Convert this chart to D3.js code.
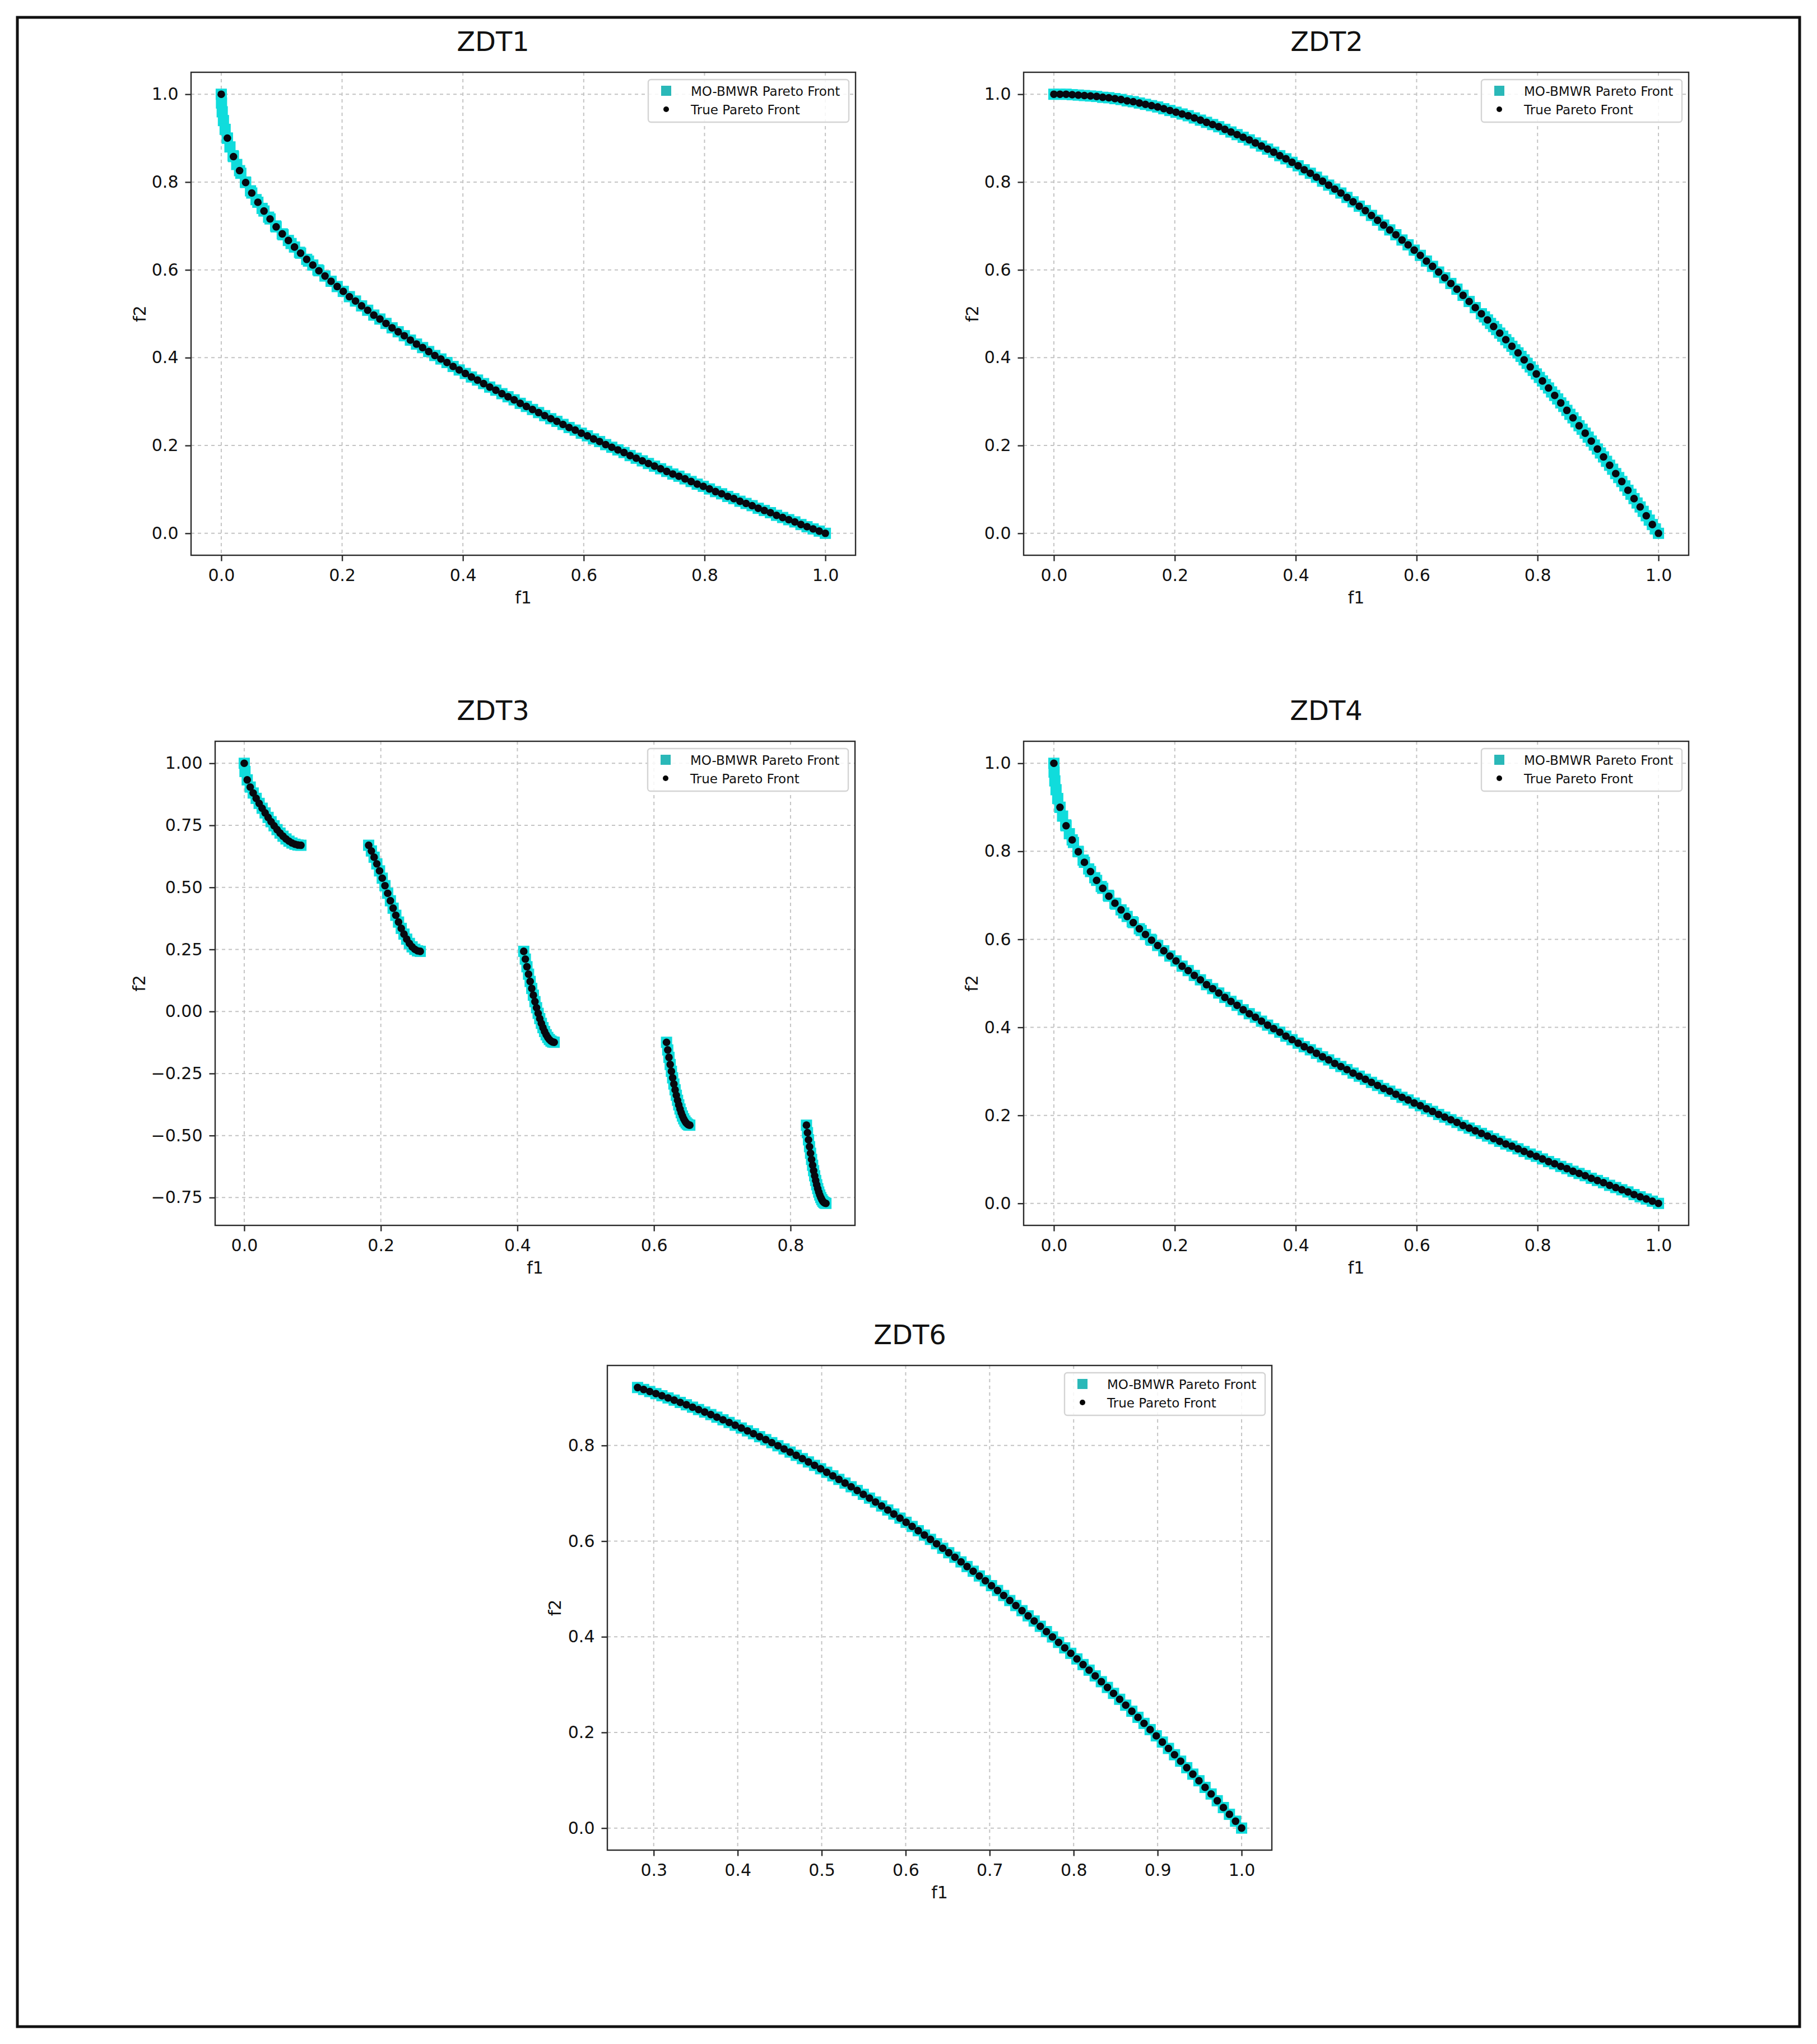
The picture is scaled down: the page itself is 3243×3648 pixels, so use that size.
<!DOCTYPE html>
<html><head><meta charset="utf-8">
<script src="https://cdn.jsdelivr.net/npm/d3@7"></script>
<style>body{margin:0;background:#fff}svg{display:block}</style>
</head><body>
<svg id="c" width="3243" height="3648"></svg>
<script>
// ---------- data ----------
const panelTitles = ["ZDT1", "ZDT2", "ZDT3", "ZDT4", "ZDT6"];
const legendLabels = ["MO-BMWR Pareto Front", "True Pareto Front"];
const xLabel = "f1", yLabel = "f2";

const unitTicks = [0, 0.2, 0.4, 0.6, 0.8, 1.0];
const zdt3XTicks = [0, 0.2, 0.4, 0.6, 0.8];
const zdt3YTicks = [-0.75, -0.5, -0.25, 0, 0.25, 0.5, 0.75, 1.0];
const zdt6XTicks = [0.3, 0.4, 0.5, 0.6, 0.7, 0.8, 0.9, 1.0];
const zdt6YTicks = [0, 0.2, 0.4, 0.6, 0.8];

// f1 positions of the true-front dots (ZDT1, ZDT2, ZDT4)
const f1Grid = [0,.0101,.0202,.0303,.0404,.0505,.0606,.0707,.0808,.0909,
.1010,.1111,.1212,.1313,.1414,.1515,.1616,.1717,.1818,.1919,
.2020,.2121,.2222,.2323,.2424,.2525,.2626,.2727,.2828,.2929,
.3030,.3131,.3232,.3333,.3434,.3535,.3636,.3737,.3838,.3939,
.4040,.4141,.4242,.4343,.4444,.4545,.4646,.4747,.4848,.4949,
.5051,.5152,.5253,.5354,.5455,.5556,.5657,.5758,.5859,.5960,
.6061,.6162,.6263,.6364,.6465,.6566,.6667,.6768,.6869,.6970,
.7071,.7172,.7273,.7374,.7475,.7576,.7677,.7778,.7879,.7980,
.8081,.8182,.8283,.8384,.8485,.8586,.8687,.8788,.8889,.8990,
.9091,.9192,.9293,.9394,.9495,.9596,.9697,.9798,.9899,1];

const zdt1TrueF2 = [1,.900,.858,.826,.799,.775,.754,.734,.716,.698,
.682,.667,.652,.638,.624,.611,.598,.586,.574,.562,
.551,.539,.529,.518,.508,.497,.488,.478,.468,.459,
.450,.440,.431,.423,.414,.405,.397,.389,.380,.372,
.364,.356,.349,.341,.333,.326,.318,.311,.304,.296,
.289,.282,.275,.268,.261,.255,.248,.241,.235,.228,
.222,.215,.209,.202,.196,.190,.184,.177,.171,.165,
.159,.153,.147,.141,.135,.130,.124,.118,.112,.107,
.101,.095,.090,.084,.079,.073,.068,.063,.057,.052,
.047,.041,.036,.031,.026,.020,.015,.010,.005,0];

const zdt2TrueF2 = [1,1.000,1.000,.999,.998,.997,.996,.995,.993,.992,
.990,.988,.985,.983,.980,.977,.974,.971,.967,.963,
.959,.955,.951,.946,.941,.936,.931,.926,.920,.914,
.908,.902,.896,.889,.882,.875,.868,.860,.853,.845,
.837,.828,.820,.811,.802,.793,.784,.775,.765,.755,
.745,.735,.724,.713,.702,.691,.680,.668,.657,.645,
.633,.620,.608,.595,.582,.569,.556,.542,.528,.514,
.500,.486,.471,.456,.441,.426,.411,.395,.379,.363,
.347,.331,.314,.297,.280,.263,.245,.228,.210,.192,
.174,.155,.136,.118,.098,.079,.060,.040,.020,0];

const zdt4TrueF2 = [1,.900,.858,.826,.799,.775,.754,.734,.716,.698,
.682,.667,.652,.638,.624,.611,.598,.586,.574,.562,
.551,.539,.529,.518,.508,.497,.488,.478,.468,.459,
.450,.440,.431,.423,.414,.405,.397,.389,.380,.372,
.364,.356,.349,.341,.333,.326,.318,.311,.304,.296,
.289,.282,.275,.268,.261,.255,.248,.241,.235,.228,
.222,.215,.209,.202,.196,.190,.184,.177,.171,.165,
.159,.153,.147,.141,.135,.130,.124,.118,.112,.107,
.101,.095,.090,.084,.079,.073,.068,.063,.057,.052,
.047,.041,.036,.031,.026,.020,.015,.010,.005,0];

const zdt3TrueF1 = [0,.00437,.00874,.01311,.01747,.02184,.02621,.03058,.03495,.03932,.04369,.04805,.05242,.05679,.06116,.06553,.06990,.07426,.07863,.08300,
.18223,.18620,.19018,.19416,.19813,.20211,.20608,.21006,.21403,.21801,.22198,.22596,.22994,.23391,.23789,.24186,.24584,.24981,.25379,.25776,
.40931,.41166,.41401,.41635,.41870,.42104,.42339,.42573,.42808,.43042,.43277,.43512,.43746,.43981,.44215,.44450,.44684,.44919,.45154,.45388,
.61840,.62019,.62199,.62378,.62558,.62737,.62917,.63097,.63276,.63456,.63635,.63815,.63994,.64174,.64353,.64533,.64713,.64892,.65072,.65251,
.82333,.82483,.82633,.82783,.82933,.83083,.83233,.83383,.83533,.83683,.83833,.83983,.84133,.84283,.84433,.84583,.84733,.84883,.85033,.85183];

const zdt3TrueF2 = [1,.9333,.9042,.8803,.8587,.8384,.8189,.8001,.7820,.7646,.7482,.7328,.7188,.7062,.6952,.6861,.6789,.6738,.6707,.6697,
.6697,.6467,.6216,.5948,.5665,.5371,.5069,.4764,.4460,.4162,.3875,.3602,.3348,.3117,.2914,.2742,.2604,.2504,.2442,.2422,
.2422,.2110,.1802,.1502,.1209,.0927,.0655,.0396,.0152,-.0076,-.0288,-.0480,-.0653,-.0807,-.0938,-.1046,-.1131,-.1193,-.1230,-.1242,
-.1242,-.1551,-.1849,-.2137,-.2412,-.2675,-.2924,-.3158,-.3376,-.3579,-.3764,-.3932,-.4082,-.4213,-.4325,-.4417,-.4489,-.4541,-.4572,-.4583,
-.4583,-.4884,-.5173,-.5449,-.5713,-.5962,-.6197,-.6417,-.6622,-.6811,-.6983,-.7138,-.7276,-.7396,-.7499,-.7583,-.7649,-.7696,-.7724,-.7734];

const zdt6TrueF1 = [.2808,.2880,.2953,.3026,.3098,.3171,.3244,.3316,.3389,.3462,
.3534,.3607,.3680,.3752,.3825,.3898,.3970,.4043,.4116,.4188,
.4261,.4334,.4406,.4479,.4552,.4624,.4697,.4770,.4842,.4915,
.4987,.5060,.5133,.5205,.5278,.5351,.5423,.5496,.5569,.5641,
.5714,.5787,.5859,.5932,.6005,.6077,.6150,.6223,.6295,.6368,
.6441,.6513,.6586,.6659,.6731,.6804,.6877,.6949,.7022,.7094,
.7167,.7240,.7312,.7385,.7458,.7530,.7603,.7676,.7748,.7821,
.7894,.7966,.8039,.8112,.8184,.8257,.8330,.8402,.8475,.8548,
.8620,.8693,.8766,.8838,.8911,.8984,.9056,.9129,.9201,.9274,
.9347,.9419,.9492,.9565,.9637,.9710,.9783,.9855,.9928,1];

const zdt6TrueF2 = [.9212,.9171,.9128,.9084,.9040,.8994,.8948,.8900,.8851,.8801,
.8751,.8699,.8646,.8592,.8537,.8481,.8424,.8365,.8306,.8246,
.8184,.8122,.8059,.7994,.7928,.7862,.7794,.7725,.7656,.7584,
.7513,.7440,.7365,.7291,.7214,.7137,.7059,.6979,.6899,.6818,
.6735,.6651,.6567,.6481,.6394,.6307,.6218,.6127,.6037,.5945,
.5851,.5758,.5663,.5566,.5469,.5371,.5271,.5171,.5069,.4968,
.4863,.4758,.4653,.4546,.4438,.4330,.4219,.4108,.3997,.3883,
.3769,.3654,.3537,.3419,.3302,.3182,.3061,.2941,.2817,.2693,
.2570,.2443,.2316,.2189,.2059,.1929,.1799,.1666,.1534,.1399,
.1263,.1128,.0990,.0851,.0713,.0572,.0429,.0288,.0144,0];

// extra MO-BMWR points where the obtained front is denser than the dots
const zdt1FillF1 = [.0004,.0016,.0036,.0064,.0100,.0144,.0196,.0256,.0324,.0400,.0484,.0576,.0676,.0784,.0900,.1024,.1156,.1296,.1444,.1600];
const zdt1FillF2 = [.98,.96,.94,.92,.90,.88,.86,.84,.82,.80,.78,.76,.74,.72,.70,.68,.66,.64,.62,.60];
const zdt2FillF1 = [.7121,.7222,.7323,.7424,.7525,.7626,.7727,.7828,.7929,.8030,.8131,.8232,.8333,.8434,.8535,.8636,.8737,.8838,.8939,.9040,.9141,.9242,.9343,.9444,.9545,.9646,.9747,.9848,.9949];
const zdt2FillF2 = [.493,.478,.464,.449,.434,.418,.403,.387,.371,.355,.339,.322,.306,.289,.271,.254,.237,.219,.201,.183,.164,.146,.127,.108,.089,.069,.050,.030,.010];
const zdt3FillF1 = [.0011];
const zdt3FillF2 = [.967];
const zdt4FillF1 = [.0004,.0016,.0036,.0064,.0100,.0144,.0196,.0256,.0324,.0400,.0484,.0576,.0676,.0784,.0900,.1024,.1156,.1296,.1444,.1600];
const zdt4FillF2 = [.98,.96,.94,.92,.90,.88,.86,.84,.82,.80,.78,.76,.74,.72,.70,.68,.66,.64,.62,.60];
const zdt6FillF1 = [];
const zdt6FillF2 = [];

// ---------- drawing ----------
const FONT = "'DejaVu Sans', sans-serif";
const CYAN = "#10dcdc", CYAN_LEG = "#2ab8b8";
const svg = d3.select("#c");
svg.append("rect").attr("width", 3243).attr("height", 3648).attr("fill", "#fff");
svg.append("rect").attr("x", 31).attr("y", 31).attr("width", 3181).attr("height", 3586)
  .attr("fill", "none").attr("stroke", "#111").attr("stroke-width", 5);

const panels = [
  {title: panelTitles[0], left: 341, top: 129, width: 1186, height: 862, xDomain: [-0.05, 1.05], yDomain: [-0.05, 1.05],
   xTicks: unitTicks, yTicks: unitTicks, xFmt: ".1f", yFmt: ".1f", tf1: f1Grid, tf2: zdt1TrueF2, ff1: zdt1FillF1, ff2: zdt1FillF2, titleX: 880, ylabX: 249},
  {title: panelTitles[1], left: 1827, top: 129, width: 1187, height: 862, xDomain: [-0.05, 1.05], yDomain: [-0.05, 1.05],
   xTicks: unitTicks, yTicks: unitTicks, xFmt: ".1f", yFmt: ".1f", tf1: f1Grid, tf2: zdt2TrueF2, ff1: zdt2FillF1, ff2: zdt2FillF2, titleX: 2368, ylabX: 1735},
  {title: panelTitles[2], left: 384, top: 1323, width: 1142, height: 864, xDomain: [-0.0426, 0.8944], yDomain: [-0.8621, 1.0887],
   xTicks: zdt3XTicks, yTicks: zdt3YTicks, xFmt: ".1f", yFmt: ".2f", tf1: zdt3TrueF1, tf2: zdt3TrueF2, ff1: zdt3FillF1, ff2: zdt3FillF2, titleX: 880, ylabX: 248},
  {title: panelTitles[3], left: 1827, top: 1323, width: 1187, height: 864, xDomain: [-0.05, 1.05], yDomain: [-0.05, 1.05],
   xTicks: unitTicks, yTicks: unitTicks, xFmt: ".1f", yFmt: ".1f", tf1: f1Grid, tf2: zdt4TrueF2, ff1: zdt4FillF1, ff2: zdt4FillF2, titleX: 2367, ylabX: 1734},
  {title: panelTitles[4], left: 1084, top: 2437, width: 1186, height: 865, xDomain: [0.2448, 1.0360], yDomain: [-0.0461, 0.9673],
   xTicks: zdt6XTicks, yTicks: zdt6YTicks, xFmt: ".1f", yFmt: ".1f", tf1: zdt6TrueF1, tf2: zdt6TrueF2, ff1: zdt6FillF1, ff2: zdt6FillF2, titleX: 1624, ylabX: 990}
];

panels.forEach(p => {
  const g = svg.append("g").attr("transform", `translate(${p.left},${p.top})`);
  const x = d3.scaleLinear().domain(p.xDomain).range([0, p.width]);
  const y = d3.scaleLinear().domain(p.yDomain).range([p.height, 0]);

  // grid
  const grid = g.append("g").attr("stroke", "#c4c4c4").attr("stroke-width", 2).attr("stroke-dasharray", "6,6");
  grid.selectAll("line.v").data(p.xTicks).join("line").attr("class", "v")
    .attr("x1", d => x(d)).attr("x2", d => x(d)).attr("y1", 0).attr("y2", p.height);
  grid.selectAll("line.h").data(p.yTicks).join("line").attr("class", "h")
    .attr("y1", d => y(d)).attr("y2", d => y(d)).attr("x1", 0).attr("x2", p.width);

  // MO-BMWR front (cyan squares)
  const cyanPts = p.ff1.map((v, i) => [v, p.ff2[i]]).concat(p.tf1.map((v, i) => [v, p.tf2[i]]));
  const S = 20;
  g.append("g").selectAll("rect").data(cyanPts).join("rect")
    .attr("x", d => x(d[0]) - S / 2).attr("y", d => y(d[1]) - S / 2)
    .attr("width", S).attr("height", S).attr("fill", CYAN);

  // true front (black dots)
  const truePts = p.tf1.map((v, i) => [v, p.tf2[i]]);
  g.append("g").selectAll("circle").data(truePts).join("circle")
    .attr("cx", d => x(d[0])).attr("cy", d => y(d[1])).attr("r", 6.8).attr("fill", "#08080f");

  // frame
  g.append("rect").attr("width", p.width).attr("height", p.height)
    .attr("fill", "none").attr("stroke", "#2b2b2b").attr("stroke-width", 2.4);

  // axes
  const xa = g.append("g").attr("transform", `translate(0,${p.height})`)
    .call(d3.axisBottom(x).tickValues(p.xTicks).tickFormat(d3.format(p.xFmt)).tickSize(10.5).tickPadding(14));
  const ya = g.append("g")
    .call(d3.axisLeft(y).tickValues(p.yTicks).tickFormat(d3.format(p.yFmt)).tickSize(10.5).tickPadding(12));
  [xa, ya].forEach(a => {
    a.attr("font-size", 30).attr("font-family", FONT);
    a.select(".domain").remove();
    a.selectAll(".tick line").attr("stroke", "#2b2b2b").attr("stroke-width", 2.4);
    a.selectAll(".tick text").attr("fill", "#111");
  });

  // labels
  svg.append("text").attr("x", p.titleX).attr("y", p.top - 38).attr("text-anchor", "middle")
    .attr("font-family", FONT).attr("font-size", 48).attr("fill", "#111").text(p.title);
  svg.append("text").attr("x", p.left + p.width / 2).attr("y", p.top + p.height + 86).attr("text-anchor", "middle")
    .attr("font-family", FONT).attr("font-size", 30).attr("fill", "#111").text(xLabel);
  svg.append("text").attr("transform", `translate(${p.ylabX},${p.top + p.height / 2}) rotate(-90)`)
    .attr("text-anchor", "middle").attr("dy", "0.35em")
    .attr("font-family", FONT).attr("font-size", 30).attr("fill", "#111").text(yLabel);

  // legend
  const LW = 358, LH = 76;
  const lg = g.append("g").attr("transform", `translate(${p.width - 12 - LW},13)`);
  lg.append("rect").attr("width", LW).attr("height", LH).attr("rx", 5)
    .attr("fill", "#fff").attr("fill-opacity", 0.85).attr("stroke", "#d4d4d4").attr("stroke-width", 2.4);
  lg.append("rect").attr("x", 32 - 9).attr("y", 20 - 9).attr("width", 18).attr("height", 18).attr("fill", CYAN_LEG);
  lg.append("circle").attr("cx", 32).attr("cy", 53).attr("r", 5).attr("fill", "#050505");
  lg.selectAll("text").data(legendLabels).join("text")
    .attr("x", 76).attr("y", (d, i) => [20, 53][i] + 8.5)
    .attr("font-family", FONT).attr("font-size", 23).attr("fill", "#111").text(d => d);
});
</script>
</body></html>
